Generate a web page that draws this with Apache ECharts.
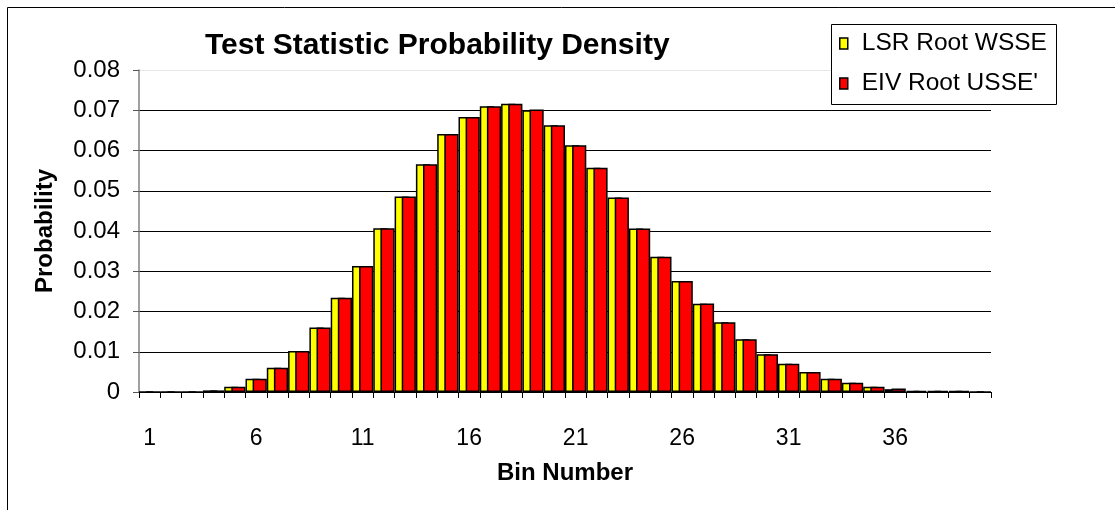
<!DOCTYPE html>
<html>
<head>
<meta charset="utf-8">
<script src="https://cdn.jsdelivr.net/npm/echarts@6/dist/echarts.min.js"></script>
<style>html,body{margin:0;padding:0;background:#fff;}#c{width:1115px;height:510px;}</style>
</head>
<body>
<div id="c"></div>
<script>
var categories = [];
for (var i = 1; i <= 40; i++) categories.push(String(i));
var lsrRootWSSE = [0,0,0,0.0004,0.0013,0.0033,0.0060,0.0102,0.0160,0.0234,0.0313,0.0407,0.0486,0.0566,0.0641,0.0683,0.0710,0.0716,0.0700,0.0663,0.0613,0.0557,0.0483,0.0406,0.0336,0.0276,0.0219,0.0173,0.0131,0.0094,0.0070,0.0050,0.0033,0.0023,0.0013,0.0007,0.0003,0.0002,0.0002,0];
var eivRootUSSE = [0,0,0,0.0004,0.0013,0.0033,0.0060,0.0102,0.0160,0.0234,0.0313,0.0407,0.0486,0.0566,0.0641,0.0683,0.0710,0.0716,0.0702,0.0663,0.0613,0.0557,0.0483,0.0406,0.0336,0.0276,0.0220,0.0173,0.0131,0.0094,0.0070,0.0050,0.0033,0.0023,0.0013,0.0009,0.0003,0.0002,0.0002,0];
var yTicks = ['0','0.01','0.02','0.03','0.04','0.05','0.06','0.07','0.08'];

var chart = echarts.init(document.getElementById('c'), null, {renderer: 'canvas'});
var font = 'Liberation Sans, Arial, sans-serif';
chart.setOption({
  animation: false,
  backgroundColor: '#fff',
  textStyle: {fontFamily: font},
  title: {
    text: 'Test Statistic Probability Density',
    left: 200, top: 26,
    textStyle: {fontFamily: font, fontSize: 30, fontWeight: 'bold', color: '#000'}
  },
  graphic: [
    {type: 'rect', shape: {x: 7.5, y: 7.5, width: 1200, height: 600}, style: {fill: 'none', stroke: '#000', lineWidth: 1}, silent: true, z: -10},
    {type: 'rect', shape: {x: 831.5, y: 24.5, width: 225, height: 80}, style: {fill: '#fff', stroke: '#000', lineWidth: 1}, silent: true, z: 5}
  ],
  legend: {
    orient: 'vertical',
    left: 839, top: 31,
    icon: 'rect',
    itemWidth: 8, itemHeight: 11,
    itemGap: 15,
    padding: 0,
    z: 10,
    textStyle: {fontFamily: font, fontSize: 24.5, color: '#000', padding: [0,0,0,9]},
    data: [
      {name: 'LSR Root WSSE', itemStyle: {color: '#ffff00', borderColor: '#000', borderWidth: 1.5}},
      {name: "EIV Root USSE'", itemStyle: {color: '#ff0000', borderColor: '#000', borderWidth: 1.5}}
    ]
  },
  grid: {left: 139, right: 124, top: 70, bottom: 118, containLabel: false},
  xAxis: {
    type: 'category',
    data: categories,
    name: 'Bin Number',
    nameLocation: 'middle',
    nameGap: 69,
    nameTextStyle: {fontFamily: font, fontSize: 24, fontWeight: 'bold', color: '#000'},
    axisLine: {lineStyle: {color: '#000', width: 1}},
    axisTick: {show: true, interval: 0, length: 6, lineStyle: {color: '#000'}},
    axisLabel: {interval: 4, margin: 35, fontFamily: font, fontSize: 23, color: '#000'},
    splitLine: {show: false}
  },
  yAxis: {
    type: 'value',
    min: 0, max: 0.08, interval: 0.01,
    name: 'Probability',
    nameLocation: 'middle',
    nameGap: 82,
    nameTextStyle: {fontFamily: font, fontSize: 24, fontWeight: 'bold', color: '#000'},
    axisLine: {show: true, lineStyle: {color: '#808080', width: 1.5}},
    axisTick: {show: true, length: 6, lineStyle: {color: '#555'}},
    axisLabel: {
      margin: 19, fontFamily: font, fontSize: 24, color: '#000',
      formatter: function (v) { var idx = Math.round(v / 0.01); return yTicks[idx]; }
    },
    splitLine: {show: true, lineStyle: {color: ['#000','#000','#000','#000','#000','#000','#000','#000','#e6e6e6'], width: 1}}
  },
  series: [
    {
      name: 'LSR Root WSSE', type: 'bar', data: lsrRootWSSE,
      barGap: '-50%', barCategoryGap: '0%',
      itemStyle: {color: '#ffff00', borderColor: '#000', borderWidth: 1.5}
    },
    {
      name: "EIV Root USSE'", type: 'bar', data: eivRootUSSE,
      barGap: '-50%', barCategoryGap: '0%',
      itemStyle: {color: '#ff0000', borderColor: '#000', borderWidth: 1.5}
    }
  ]
});
</script>
</body>
</html>
